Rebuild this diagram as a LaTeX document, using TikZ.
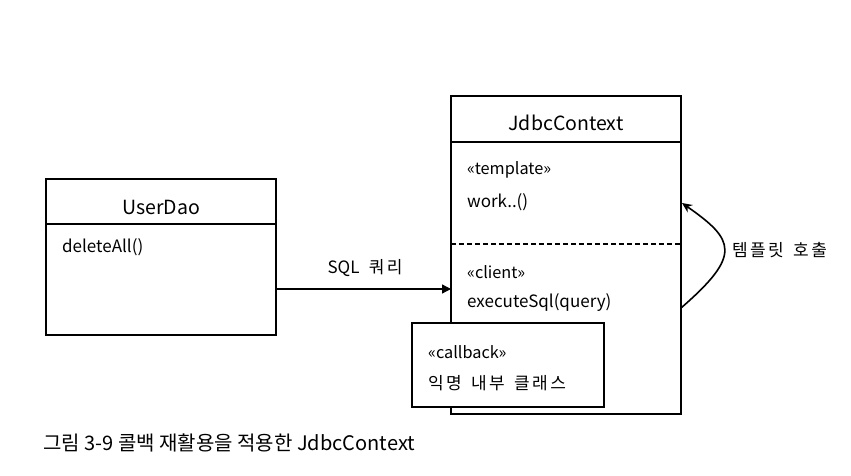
\documentclass[tikz,border=0pt]{standalone}
\usepackage{fontspec}
\setmainfont{Noto Sans CJK KR}
\newfontfamily\kr[LetterSpace=14]{Noto Sans CJK KR}
\newcommand\ksp{\hspace{0.55em}}
\usetikzlibrary{arrows.meta}
\begin{document}
\begin{tikzpicture}[x=1pt,y=-1pt,
  box/.style={draw=black,line width=1.3pt,fill=white},
  title/.style={font=\fontsize{19.5}{22}\selectfont,anchor=center,inner sep=0pt},
  body/.style={font=\fontsize{17}{20}\selectfont,anchor=west,inner sep=0pt},
  small/.style={font=\fontsize{16.3}{19}\selectfont,anchor=west,inner sep=0pt},
  conn/.style={line width=1.3pt,-{Triangle[length=9pt,width=9pt]}},
]
\useasboundingbox (0,0) rectangle (851,476);
\fill[white] (0,0) rectangle (851,476);
% UserDao
\draw[box] (46,179) rectangle (276,335);
\coordinate (udR) at (276,289);
\draw[line width=1.3pt] (46,224) -- (276,224);
\node[title] (ud) at (161,207) {UserDao};
\node[body] (da) at (62,247) {deleteAll()};
% JdbcContext
\draw[box] (451,96) rectangle (681,414);
\coordinate (jcL) at (451,289);
\draw[line width=1.3pt] (451,142) -- (681,142);
\draw[line width=1.3pt,dash pattern=on 5pt off 3pt] (451,244) -- (681,244);
\node[title] (jc) at (566,123) {JdbcContext};
\node[small] (tp) at (467,170) {«template»};
\node[body] (wk) at (467,202) {work..()};
\node[small] (cl) at (467,272) {«client»};
\node[body] (ex) at (467,303) {executeSql(query)};
% callback
\draw[box] (412,323) rectangle (604,407);
\node[small] (cb) at (428,352) {«callback»};
\node[body] (an) at (428,383) {\kr 익명\ksp 내부\ksp 클래스};
% arrows
\draw[conn] (udR) -- (jcL);
\node[body,anchor=center] (sql) at (365,268) {SQL\ksp{\kr 쿼리}};
\coordinate (cs) at (681,308);
\coordinate (ce) at (682,203);
\draw[line width=1.6pt,-{Stealth[length=10pt,width=9pt]}] (cs) .. controls (742,255) and (735,240) .. (ce);
\node[body] (tc) at (732,250) {\kr 템플릿\ksp 호출};
% caption
\node[font=\fontsize{20}{24}\selectfont,anchor=west,inner sep=0pt] (cap) at (43,443) {그림 3-9 콜백 재활용을 적용한 JdbcContext};
\end{tikzpicture}
\end{document}
